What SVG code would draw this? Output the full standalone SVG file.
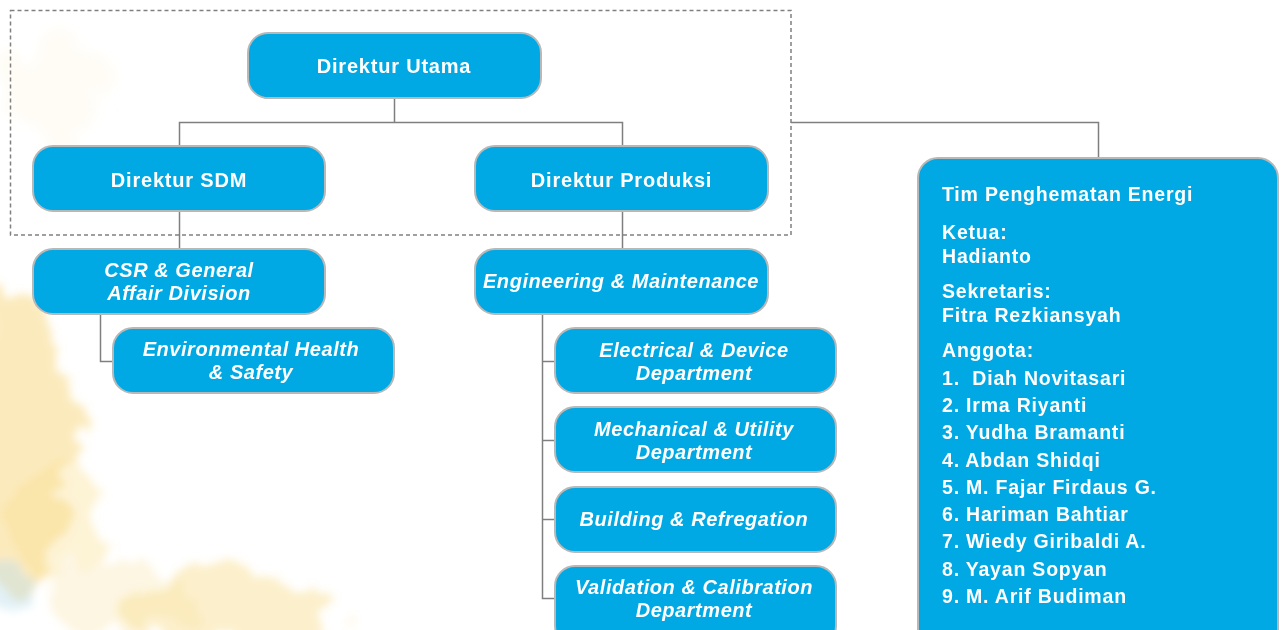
<svg xmlns="http://www.w3.org/2000/svg" width="1281" height="630" viewBox="0 0 1281 630">
<style>
.box{fill:#00a9e4;stroke:#b8b8b8;stroke-width:2}
.t{font-family:"Liberation Sans",Arial,sans-serif;font-weight:700;fill:#fff;font-size:20px;letter-spacing:0.8px;text-anchor:middle}
.i{font-style:italic;font-size:20px;letter-spacing:0.55px}
.l{font-family:"Liberation Sans",Arial,sans-serif;font-weight:700;fill:#fff;font-size:19.5px;letter-spacing:0.8px}
.c{fill:none;stroke:#7f7f7f;stroke-width:1.5}
</style>
<defs>
<filter id="wc" x="-30%" y="-30%" width="160%" height="160%">
<feTurbulence type="fractalNoise" baseFrequency="0.025" numOctaves="4" seed="7" result="n"/>
<feDisplacementMap in="SourceGraphic" in2="n" scale="70" result="d"/>
<feGaussianBlur in="d" stdDeviation="4"/>
</filter>
</defs>
<rect width="1281" height="630" fill="#fff"/>
<g id="background" filter="url(#wc)">
<ellipse cx="15" cy="440" rx="60" ry="150" fill="#f7d06a" opacity="0.45"/>
<ellipse cx="55" cy="520" rx="50" ry="60" fill="#f9dc88" opacity="0.35"/>
<ellipse cx="230" cy="610" rx="110" ry="40" fill="#f7d06a" opacity="0.35"/>
<ellipse cx="120" cy="600" rx="70" ry="40" fill="#fae2a0" opacity="0.3"/>
<ellipse cx="60" cy="90" rx="60" ry="50" fill="#fbe6a6" opacity="0.1"/>
<ellipse cx="8" cy="585" rx="20" ry="25" fill="#bfe0ee" opacity="0.45"/>
</g>
<g id="connectors">
<rect x="10.5" y="10.5" width="780.5" height="224.5" fill="none" stroke="#808080" stroke-width="1.5" stroke-dasharray="4 3"/>
<path class="c" d="M394.5 98V122.5M179.5 147V122.5H622.5V147"/>
<path class="c" d="M791 122.5H1098.5V158"/>
<path class="c" d="M179.5 211V249"/>
<path class="c" d="M100.5 314V361.5H113"/>
<path class="c" d="M622.5 211V249"/>
<path class="c" d="M542.5 314V598.5H555M542.5 361.5H555M542.5 440.5H555M542.5 519.5H555"/>
</g>
<g id="direktur-utama"><rect class="box" x="248" y="33" width="293" height="65" rx="20"/><text class="t" x="394" y="73">Direktur Utama</text></g>
<g id="direktur-sdm"><rect class="box" x="33" y="146" width="292" height="65" rx="20"/><text class="t" x="179" y="187">Direktur SDM</text></g>
<g id="direktur-produksi"><rect class="box" x="475" y="146" width="293" height="65" rx="20"/><text class="t" x="621.5" y="187">Direktur Produksi</text></g>
<g id="csr"><rect class="box" x="33" y="249" width="292" height="65" rx="20"/><text class="t i"><tspan x="179" y="277">CSR &amp; General</tspan><tspan x="179" y="300">Affair Division</tspan></text></g>
<g id="ehs"><rect class="box" x="113" y="328" width="281" height="65" rx="20"/><text class="t i"><tspan x="251" y="356">Environmental Health</tspan><tspan x="251" y="379">&amp; Safety</tspan></text></g>
<g id="engineering"><rect class="box" x="475" y="249" width="293" height="65" rx="20"/><text class="t i" x="621" y="288">Engineering &amp; Maintenance</text></g>
<g id="electrical"><rect class="box" x="555" y="328" width="281" height="65" rx="20"/><text class="t i"><tspan x="694" y="357">Electrical &amp; Device</tspan><tspan x="694" y="380">Department</tspan></text></g>
<g id="mechanical"><rect class="box" x="555" y="407" width="281" height="65" rx="20"/><text class="t i"><tspan x="694" y="436">Mechanical &amp; Utility</tspan><tspan x="694" y="459">Department</tspan></text></g>
<g id="building"><rect class="box" x="555" y="487" width="281" height="65" rx="20"/><text class="t i" x="694" y="526">Building &amp; Refregation</text></g>
<g id="validation"><rect class="box" x="555" y="566" width="281" height="80" rx="20"/><text class="t i"><tspan x="694" y="594">Validation &amp; Calibration</tspan><tspan x="694" y="617">Department</tspan></text></g>
<g id="tim"><rect class="box" x="918" y="158" width="360" height="500" rx="20"/>
<text class="l" x="942" y="201">Tim Penghematan Energi</text>
<text class="l"><tspan x="942" y="239">Ketua:</tspan><tspan x="942" y="263">Hadianto</tspan></text>
<text class="l"><tspan x="942" y="298">Sekretaris:</tspan><tspan x="942" y="322">Fitra Rezkiansyah</tspan></text>
<text class="l" xml:space="preserve"><tspan x="942" y="357">Anggota:</tspan><tspan x="942" y="385">1.  Diah Novitasari</tspan><tspan x="942" y="412">2. Irma Riyanti</tspan><tspan x="942" y="439">3. Yudha Bramanti</tspan><tspan x="942" y="467">4. Abdan Shidqi</tspan><tspan x="942" y="494">5. M. Fajar Firdaus G.</tspan><tspan x="942" y="521">6. Hariman Bahtiar</tspan><tspan x="942" y="548">7. Wiedy Giribaldi A.</tspan><tspan x="942" y="576">8. Yayan Sopyan</tspan><tspan x="942" y="603">9. M. Arif Budiman</tspan></text>
</g>
</svg>
